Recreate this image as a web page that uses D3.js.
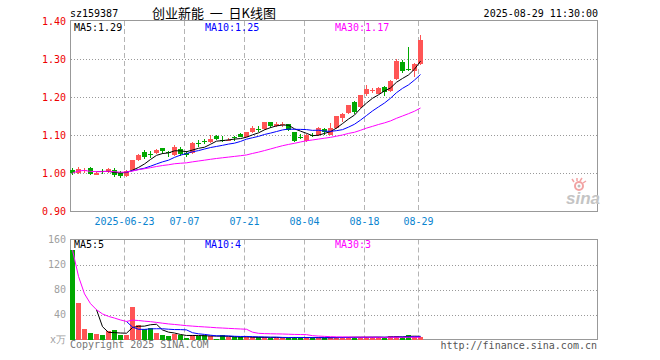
<!DOCTYPE html>
<html>
<head>
<meta charset="utf-8">
<script src="https://cdn.jsdelivr.net/npm/d3@7"></script>
<style>
  body { margin: 0; background: #fff; }
  #chart svg text { font-family: "DejaVu Sans Mono", monospace; font-size: 10px; }
</style>
</head>
<body>
<div id="chart"></div>
<script>
// trading days shown on the chart
var dates = [
  "2025-06-10","2025-06-11","2025-06-12","2025-06-13","2025-06-16","2025-06-17","2025-06-18","2025-06-19","2025-06-20","2025-06-23",
  "2025-06-24","2025-06-25","2025-06-26","2025-06-27","2025-06-30","2025-07-01","2025-07-02","2025-07-03","2025-07-04","2025-07-07",
  "2025-07-08","2025-07-09","2025-07-10","2025-07-11","2025-07-14","2025-07-15","2025-07-16","2025-07-17","2025-07-18","2025-07-21",
  "2025-07-22","2025-07-23","2025-07-24","2025-07-25","2025-07-28","2025-07-29","2025-07-30","2025-07-31","2025-08-01","2025-08-04",
  "2025-08-05","2025-08-06","2025-08-07","2025-08-08","2025-08-11","2025-08-12","2025-08-13","2025-08-14","2025-08-15","2025-08-18",
  "2025-08-19","2025-08-20","2025-08-21","2025-08-22","2025-08-25","2025-08-26","2025-08-27","2025-08-28","2025-08-29"
];

var openPrices = [
  1.008, 0.999, 1.004, 1.013, 0.996, 1.004, 1.003, 1.008, 1.001, 0.993,
  1.008, 1.035, 1.056, 1.051, 1.053, 1.065, 1.056, 1.047, 1.064, 1.053,
  1.052, 1.079, 1.084, 1.081, 1.097, 1.088, 1.085, 1.094, 1.103, 1.096,
  1.107, 1.115, 1.116, 1.133, 1.125, 1.127, 1.129, 1.108, 1.096, 1.085,
  1.101, 1.099, 1.116, 1.101, 1.118, 1.145, 1.158, 1.187, 1.174, 1.209,
  1.216, 1.209, 1.226, 1.215, 1.247, 1.291, 1.274, 1.269, 1.288
];
var highPrices = [
  1.012, 1.017, 1.012, 1.015, 1.002, 1.010, 1.013, 1.014, 1.004, 1.007,
  1.035, 1.050, 1.061, 1.058, 1.062, 1.067, 1.058, 1.073, 1.068, 1.058,
  1.082, 1.087, 1.089, 1.100, 1.100, 1.097, 1.091, 1.098, 1.106, 1.108,
  1.125, 1.123, 1.134, 1.135, 1.135, 1.134, 1.130, 1.109, 1.103, 1.102,
  1.104, 1.120, 1.118, 1.132, 1.150, 1.158, 1.180, 1.189, 1.205, 1.232,
  1.224, 1.226, 1.229, 1.245, 1.299, 1.298, 1.332, 1.290, 1.364
];
var lowPrices = [
  0.994, 0.997, 0.999, 0.995, 0.994, 0.998, 1.001, 0.990, 0.986, 0.990,
  1.007, 1.031, 1.038, 1.040, 1.051, 1.050, 1.041, 1.045, 1.046, 1.043,
  1.050, 1.069, 1.076, 1.078, 1.087, 1.082, 1.083, 1.083, 1.094, 1.094,
  1.105, 1.108, 1.114, 1.119, 1.120, 1.120, 1.110, 1.081, 1.089, 1.081,
  1.094, 1.097, 1.101, 1.100, 1.116, 1.133, 1.155, 1.154, 1.172, 1.202,
  1.211, 1.207, 1.202, 1.213, 1.245, 1.263, 1.268, 1.252, 1.285
];
var closePrices = [
  1.000, 1.011, 1.009, 0.997, 1.001, 1.003, 1.011, 0.995, 0.991, 1.006,
  1.034, 1.047, 1.041, 1.050, 1.060, 1.058, 1.055, 1.069, 1.050, 1.048,
  1.080, 1.078, 1.083, 1.089, 1.089, 1.087, 1.088, 1.093, 1.096, 1.107,
  1.118, 1.114, 1.133, 1.125, 1.130, 1.129, 1.112, 1.085, 1.095, 1.101,
  1.098, 1.118, 1.109, 1.118, 1.149, 1.156, 1.178, 1.161, 1.204, 1.221,
  1.219, 1.224, 1.212, 1.243, 1.296, 1.269, 1.270, 1.288, 1.349
];
// volume, in 10k lots
var volumes = [
  143, 59, 17, 10.4, 8.8, 7.2, 13.6, 15.2, 7.2, 7.2,
  52.5, 23.7, 16.3, 18.4, 10.9, 7.2, 6.1, 9.3, 6.7, 2.9,
  7.2, 6.1, 6.7, 5.6, 1.3, 7.2, 4.5, 3.5, 3.5, 3.5,
  3.5, 3.5, 3.5, 2.9, 2.9, 2.0, 3.0, 4.3, 3.0, 3.0,
  2.0, 3.0, 3.0, 3.5, 3.5, 3.5, 3.5, 4.5, 3.5, 3.6,
  3.6, 3.6, 2.9, 5.6, 5.6, 3.6, 7.2, 4.5, 4.5
];

var priceTicks = [0.90, 1.00, 1.10, 1.20, 1.30, 1.40];
var volumeTicks = [0, 40, 80, 120, 160];
var dateTicks = ["2025-06-23", "2025-07-07", "2025-07-21", "2025-08-04", "2025-08-18", "2025-08-29"];
var dateTickLabels = ["2025-06-23", "07-07", "07-21", "08-04", "08-18", "08-29"];
var maPeriods = [5, 10, 30];
var maColors = ["#000000", "#0000ff", "#ff00ff"];
var priceMaLabels = ["MA5:1.29", "MA10:1.25", "MA30:1.17"];
var volumeMaLabels = ["MA5:5", "MA10:4", "MA30:3"];

// moving average, the long one falls back to what is available
function movingAverage(values, n) {
  return values.map(function(v, i) {
    if (i < n - 1 && n < 30) return null;
    var from = Math.max(0, i - n + 1);
    return d3.mean(values.slice(from, i + 1));
  });
}

class klineChart {

  constructor(id) {
    this.svg = d3.select("#" + id).append("svg")
      .attr("width", 660)
      .attr("height", 360);

    // slots of 6px, the panel keeps room for 88 days
    this.x = d3.scaleLinear().domain([0, 88]).range([70, 598]);
    this.yPrice = d3.scaleLinear().domain([0.90, 1.40]).range([211, 21]);
    this.yVol = d3.scaleLinear().domain([0, 160]).range([339.5, 239.5]);

    this.drawHeader();
    this.drawGrid();
    this.drawCandles();
    this.drawVolumes();
    this.drawAxes();
    this.drawFooter();
  }

  drawHeader() {
    var svg = this.svg;
    svg.append("text").attr("x", 70).attr("y", 17).attr("fill", "#000").text("sz159387");
    svg.append("text").attr("x", 214).attr("y", 18).attr("text-anchor", "middle")
      .style("font-family", "'Noto Sans CJK SC', sans-serif").style("font-size", "13px")
      .style("white-space", "pre")
      .attr("fill", "#000").text("创业新能  一  日K线图");
    svg.append("text").attr("x", 598).attr("y", 17).attr("text-anchor", "end")
      .attr("fill", "#000").text("2025-08-29 11:30:00");
  }

  drawGrid() {
    var x = this.x, svg = this.svg;
    var tickIdx = dateTicks.map(function(d) { return dates.indexOf(d); });

    var panels = [[21, 211], [239.5, 339.5]];
    panels.forEach(function(p) {
      svg.append("g").selectAll("line")
        .data(tickIdx)
        .enter().append("line")
          .attr("x1", function(i) { return x(i) + 0.5; })
          .attr("x2", function(i) { return x(i) + 0.5; })
          .attr("y1", p[0]).attr("y2", p[1])
          .attr("stroke", "#b4b4b4")
          .attr("stroke-dasharray", "5,3");
    });

    var yPrice = this.yPrice, yVol = this.yVol;
    svg.append("g").selectAll("line")
      .data(priceTicks.slice(1, -1))
      .enter().append("line")
        .attr("x1", 71).attr("x2", 597)
        .attr("y1", function(d) { return Math.round(yPrice(d)) + 0.5; })
        .attr("y2", function(d) { return Math.round(yPrice(d)) + 0.5; })
        .attr("stroke", "#999").attr("stroke-dasharray", "1,2");
    svg.append("g").selectAll("line")
      .data(volumeTicks.slice(1, -1))
      .enter().append("line")
        .attr("x1", 71).attr("x2", 597)
        .attr("y1", function(d) { return Math.round(yVol(d)) + 0.5; })
        .attr("y2", function(d) { return Math.round(yVol(d)) + 0.5; })
        .attr("stroke", "#999").attr("stroke-dasharray", "1,2");

    // panel borders
    svg.append("rect").attr("x", 70.5).attr("y", 20.5).attr("width", 527).attr("height", 191)
      .attr("fill", "none").attr("stroke", "#999");
    svg.append("rect").attr("x", 70.5).attr("y", 239.5).attr("width", 527).attr("height", 100)
      .attr("fill", "none").attr("stroke", "#999");

    // sina mark
    var logo = svg.append("g").attr("transform", "translate(566,186)");
    logo.append("circle").attr("cx", 13).attr("cy", 0).attr("r", 4)
      .attr("fill", "none").attr("stroke", "#f2a3a3").attr("stroke-width", 2);
    logo.append("circle").attr("cx", 13).attr("cy", 0).attr("r", 1.5).attr("fill", "#bbb");
    logo.append("path").attr("d", "M8,-4 L6,-7 M11,-5 L11,-8 M14,-5 L16,-8 M17,-3 L20,-5")
      .attr("stroke", "#f2a3a3").attr("stroke-width", 1.5);
    logo.append("text").attr("x", 0).attr("y", 18)
      .style("font-family", "'Liberation Sans', sans-serif").style("font-size", "17px")
      .style("font-style", "italic").style("font-weight", "bold")
      .attr("fill", "#c4c4c4").text("sina");
  }

  drawCandles() {
    var x = this.x, y = this.yPrice, svg = this.svg;
    var data = dates.map(function(d, i) {
      return {i: i, o: openPrices[i], h: highPrices[i], l: lowPrices[i], c: closePrices[i]};
    });
    var color = function(d) { return d.c >= d.o ? "#ff5555" : "#00a800"; };

    var g = svg.append("g").attr("shape-rendering", "crispEdges");
    g.selectAll(".wick")
      .data(data)
      .enter().append("line")
        .attr("class", "wick")
        .attr("x1", function(d) { return x(d.i) + 2.5; })
        .attr("x2", function(d) { return x(d.i) + 2.5; })
        .attr("y1", function(d) { return y(d.h); })
        .attr("y2", function(d) { return y(d.l); })
        .attr("stroke", color);
    g.selectAll(".body")
      .data(data)
      .enter().append("rect")
        .attr("class", "body")
        .attr("x", function(d) { return x(d.i); })
        .attr("y", function(d) { return y(Math.max(d.o, d.c)); })
        .attr("width", 5)
        .attr("height", function(d) { return Math.max(1, Math.abs(y(d.o) - y(d.c))); })
        .attr("fill", color);

    this.drawMaLines(closePrices, y, priceMaLabels, 31);
  }

  drawVolumes() {
    var x = this.x, y = this.yVol, svg = this.svg;
    svg.append("g").attr("shape-rendering", "crispEdges")
      .selectAll("rect")
      .data(volumes)
      .enter().append("rect")
        .attr("x", function(d, i) { return x(i); })
        .attr("y", function(d) { return y(d); })
        .attr("width", 5)
        .attr("height", function(d) { return y(0) - y(d); })
        .attr("fill", function(d, i) { return closePrices[i] >= openPrices[i] ? "#ff5555" : "#00a800"; });

    this.drawMaLines(volumes, y, volumeMaLabels, 248);
  }

  drawMaLines(values, y, labels, labelY) {
    var x = this.x, svg = this.svg;
    maPeriods.forEach(function(n, k) {
      var ma = movingAverage(values, n);
      var line = d3.line()
        .defined(function(d) { return d != null; })
        .x(function(d, i) { return x(i) + 2.5; })
        .y(function(d) { return y(d); });
      svg.append("path")
        .datum(ma)
        .attr("d", line)
        .attr("fill", "none")
        .attr("stroke", maColors[k])
        .attr("stroke-width", 1);
    });

    var labelX = [74, 205, 335];
    svg.append("g").selectAll("text")
      .data(labels)
      .enter().append("text")
        .attr("x", function(d, k) { return labelX[k]; })
        .attr("y", labelY)
        .attr("fill", function(d, k) { return maColors[k]; })
        .text(function(d) { return d; });
  }

  drawAxes() {
    var svg = this.svg;

    var priceAxis = svg.append("g")
      .attr("transform", "translate(66,0)")
      .call(d3.axisLeft(this.yPrice).tickValues(priceTicks).tickFormat(d3.format(".2f")).tickSize(0).tickPadding(0));
    priceAxis.select(".domain").remove();
    priceAxis.selectAll("text").attr("fill", "#ee0000")
      .style("font-family", "'DejaVu Sans Mono', monospace").style("font-size", "10px");

    var volAxis = svg.append("g")
      .attr("transform", "translate(66,0)")
      .call(d3.axisLeft(this.yVol).tickValues(volumeTicks)
        .tickFormat(function(d) { return d === 0 ? "x万" : d; }).tickSize(0).tickPadding(0));
    volAxis.select(".domain").remove();
    volAxis.selectAll("text").attr("fill", "#a0a0a0")
      .style("font-family", "'DejaVu Sans Mono', monospace").style("font-size", "10px");

    var tickIdx = dateTicks.map(function(d) { return dates.indexOf(d); });
    var dateAxis = svg.append("g")
      .attr("transform", "translate(0,211)")
      .call(d3.axisBottom(this.x).tickValues(tickIdx)
        .tickFormat(function(d, k) { return dateTickLabels[k]; }).tickSize(0).tickPadding(7));
    dateAxis.select(".domain").remove();
    dateAxis.selectAll("text").attr("fill", "#0a84d0")
      .style("font-family", "'DejaVu Sans Mono', monospace").style("font-size", "10px");
  }

  drawFooter() {
    this.svg.append("text").attr("x", 70).attr("y", 348).attr("fill", "#777")
      .text("Copyright 2025 SINA.COM");
    this.svg.append("text").attr("x", 597).attr("y", 349).attr("text-anchor", "end").attr("fill", "#555")
      .text("http://finance.sina.com.cn");
  }
}

new klineChart("chart");
</script>
</body>
</html>
